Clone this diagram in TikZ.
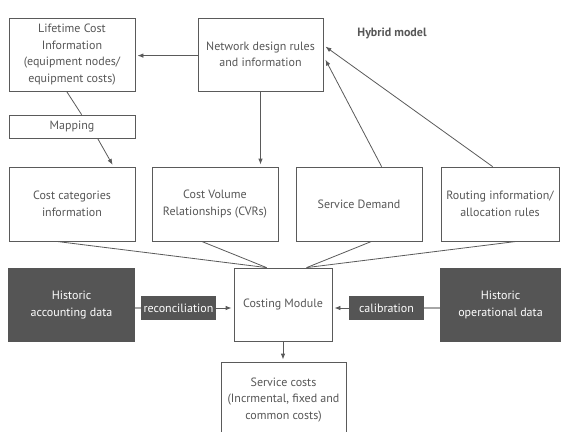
\documentclass[tikz,border=0pt]{standalone}
\usepackage{fontspec}
\setmainfont{PT Sans}
\usetikzlibrary{arrows.meta,calc}
\definecolor{ink}{HTML}{575757}
\definecolor{dark}{HTML}{555555}
\definecolor{edge}{HTML}{5A5A5A}
\tikzset{
  box/.style={draw=edge, line width=0.8pt, fill=white, text=ink, align=center, inner sep=0pt, font=\fontsize{12}{16.5}\selectfont},
  darkbox/.style={fill=dark, text=white, align=center, inner sep=0pt, font=\fontsize{12}{16.5}\selectfont},
  conn/.style={draw=edge, line width=0.8pt},
  arr/.style={conn, -{Latex[length=6pt,width=4.5pt]}},
  link/.style={draw=gray!70, line width=1.6pt}
}
\begin{document}
\begin{tikzpicture}[x=1pt,y=-1pt]
\useasboundingbox (0,0) rectangle (561,431);
\begin{scope}
\clip (0,0) rectangle (561,431);
\node[box, minimum width=126pt, minimum height=73pt] (life) at (72,54.5) {Lifetime Cost\\Information\\(equipment nodes/\\equipment costs)};
\node[box, minimum width=125pt, minimum height=73pt] (net) at (260.5,54.5) {Network design rules\\and information};
\node[box, minimum width=126pt, minimum height=23pt] (map) at (72,126.5) {Mapping};
\node[text=ink, font=\fontsize{12}{14}\selectfont\bfseries] (hyb) at (392,33) {Hybrid model};
\node[box, minimum width=126pt, minimum height=74pt] (cat) at (72,204) {Cost categories\\information};
\node[box, minimum width=126pt, minimum height=74pt] (cvr) at (215,204) {Cost Volume\\Relationships (CVRs)};
\node[box, minimum width=126pt, minimum height=74pt] (dem) at (359,204) {Service Demand};
\node[box, minimum width=118pt, minimum height=74pt] (rout) at (500,204) {Routing information/\\allocation rules};
\node[darkbox, minimum width=127pt, minimum height=74pt] (hacc) at (71.5,305) {Historic\\accounting data};
\node[darkbox, minimum width=75pt, minimum height=24pt] (rec) at (178.5,308) {reconciliation};
\node[box, minimum width=98pt, minimum height=73pt] (cost) at (283,304.5) {Costing Module};
\node[darkbox, minimum width=75pt, minimum height=24pt] (cal) at (386.5,308) {calibration};
\node[darkbox, minimum width=121pt, minimum height=74pt] (hop) at (500.5,305) {Historic\\operational data};
\node[box, minimum width=125pt, minimum height=76pt] (svc) at (283.5,400) {Service costs\\(Incrmental, fixed and\\common costs)};

\draw[arr, shorten >=2pt] ($(net.north west)+(0,38)$) -- ($(life.north east)+(0,38)$);
\draw[conn] ($(life.south west)+(58,0)$) -- ($(map.north west)+(73,0)$);
\draw[arr, shorten >=2pt] ($(map.south west)+(89,0)$) -- ($(cat.north west)+(105,0)$);
\draw[arr, shorten >=2pt] (net.south) -- (net.south |- cvr.north);
\draw[arr] ($(dem.north west)+(86,0)$) -- ($(net.north east)+(2,42)$);
\draw[arr] ($(rout.north west)+(52,0)$) -- ($(net.north east)+(2,29)$);
\draw[conn] ($(cat.south west)+(48,0)$) -- ($(cost.north west)+(33,0)$);
\draw[conn] ($(cvr.south west)+(50,0)$) -- ($(cost.north west)+(33,0)$);
\draw[conn] ($(dem.south west)+(76,0)$) -- ($(cost.north west)+(73,0)$);
\draw[conn] ($(rout.south west)+(76,0)$) -- ($(cost.north west)+(73,0)$);
\draw[link] (hacc.east |- rec.west) -- (rec.west);
\draw[arr, shorten >=2pt] (rec.east) -- (rec.east -| cost.west);
\draw[link] (hop.west |- cal.east) -- (cal.east);
\draw[arr, shorten >=2pt] (cal.west) -- (cal.west -| cost.east);
\draw[arr, shorten >=2pt] (cost.south) -- (cost.south |- svc.north);
\end{scope}
\end{tikzpicture}
\end{document}
